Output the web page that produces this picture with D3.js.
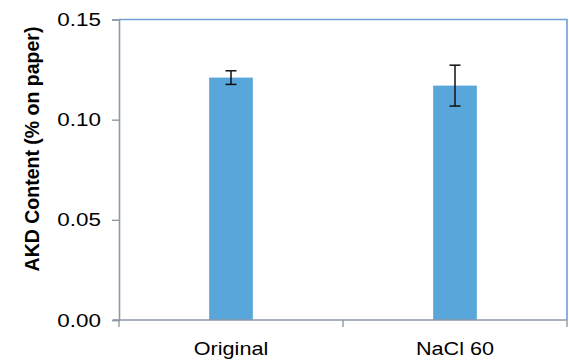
<!DOCTYPE html>
<html>
<head>
<meta charset="utf-8">
<script src="https://cdn.jsdelivr.net/npm/d3@7"></script>
<style>
  html, body { margin: 0; padding: 0; background: #fff; }
  svg { display: block; font-family: Arial, "Liberation Sans", sans-serif; }
</style>
</head>
<body>
<svg id="chart" width="569" height="360"></svg>
<script>
// AKD content per treatment, with standard deviation
const categories = ["Original", "NaCl 60"];
const values = [0.121, 0.117];
const errors = [0.0034, 0.0102];
const yTicks = [0.00, 0.05, 0.10, 0.15];

const W = 569, H = 360;
const margin = { left: 119, right: 2, top: 19.5, bottom: 40 };
const x0 = margin.left, x1 = W - margin.right;
const y0 = H - margin.bottom, y1 = margin.top;

const svg = d3.select("#chart");

const x = d3.scaleBand().domain(categories).range([x0, x1]).paddingInner(0).paddingOuter(0);
const y = d3.scaleLinear().domain([0, 0.15]).range([y0, y1]);

const barW = x.bandwidth() * 0.195;
const axisColor = "#8E99A7";
const frameColor = "#6E9FD8";
const barColor = "#58A6DA";

// stretch glyphs horizontally to the wide letterforms of the chart
function widen(sel, k) {
  sel.each(function () {
    const len = this.getComputedTextLength();
    d3.select(this).attr("textLength", len * k).attr("lengthAdjust", "spacingAndGlyphs");
  });
}

// frame: top and right border
svg.append("path")
  .attr("d", `M${x0},${y1}H${x1}V${y0}`)
  .attr("fill", "none").attr("stroke", frameColor).attr("stroke-width", 1.6);

// bars
svg.selectAll("rect.bar").data(categories).join("rect")
  .attr("class", "bar")
  .attr("x", (d) => x(d) + x.bandwidth() / 2 - barW / 2)
  .attr("width", barW)
  .attr("y", (d, i) => y(values[i]))
  .attr("height", (d, i) => y(0) - y(values[i]))
  .attr("fill", barColor);

// error bars
const cap = 5.5;
const eg = svg.selectAll("g.err").data(categories).join("g").attr("class", "err")
  .attr("stroke", "#111").attr("stroke-width", 1.5).attr("fill", "none");
eg.append("line")
  .attr("x1", (d) => x(d) + x.bandwidth() / 2).attr("x2", (d) => x(d) + x.bandwidth() / 2)
  .attr("y1", (d, i) => y(values[i] + errors[i])).attr("y2", (d, i) => y(values[i] - errors[i]));
eg.append("line")
  .attr("x1", (d) => x(d) + x.bandwidth() / 2 - cap).attr("x2", (d) => x(d) + x.bandwidth() / 2 + cap)
  .attr("y1", (d, i) => y(values[i] + errors[i])).attr("y2", (d, i) => y(values[i] + errors[i]));
eg.append("line")
  .attr("x1", (d) => x(d) + x.bandwidth() / 2 - cap).attr("x2", (d) => x(d) + x.bandwidth() / 2 + cap)
  .attr("y1", (d, i) => y(values[i] - errors[i])).attr("y2", (d, i) => y(values[i] - errors[i]));

// y axis
const yAxis = svg.append("g").attr("transform", `translate(${x0},0)`)
  .call(d3.axisLeft(y).tickValues(yTicks).tickFormat(d3.format(".2f")).tickSizeOuter(0).tickSize(7).tickPadding(11));
yAxis.select(".domain").attr("stroke", axisColor).attr("stroke-width", 1.6);
yAxis.selectAll(".tick line").attr("stroke", axisColor).attr("stroke-width", 1.4);
yAxis.selectAll(".tick text")
  .attr("font-size", 19).attr("fill", "#000").attr("font-family", "Arial, 'Liberation Sans', sans-serif")
  .call(widen, 1.18);

// x axis with boundary ticks between categories
const xAxis = svg.append("g").attr("transform", `translate(0,${y0})`);
xAxis.append("line").attr("x1", x0 - 6).attr("x2", x1).attr("y1", 0).attr("y2", 0)
  .attr("stroke", axisColor).attr("stroke-width", 1.6);
const bounds = [x0, ...categories.slice(1).map((c) => x(c)), x1];
xAxis.selectAll("line.tk").data(bounds).join("line").attr("class", "tk")
  .attr("x1", (d) => d).attr("x2", (d) => d).attr("y1", 0).attr("y2", 7)
  .attr("stroke", axisColor).attr("stroke-width", 1.4);
xAxis.selectAll("text").data(categories).join("text")
  .attr("x", (d) => x(d) + x.bandwidth() / 2)
  .attr("y", 35)
  .attr("text-anchor", "middle")
  .attr("font-size", 18).attr("fill", "#000")
  .text((d) => d)
  .call(widen, 1.2);

// y axis title
svg.append("text")
  .attr("transform", `translate(38.5,149) rotate(-90)`)
  .attr("text-anchor", "middle")
  .attr("font-size", 19.5).attr("font-weight", "bold").attr("fill", "#000")
  .text("AKD Content (% on paper)");
</script>
</body>
</html>
